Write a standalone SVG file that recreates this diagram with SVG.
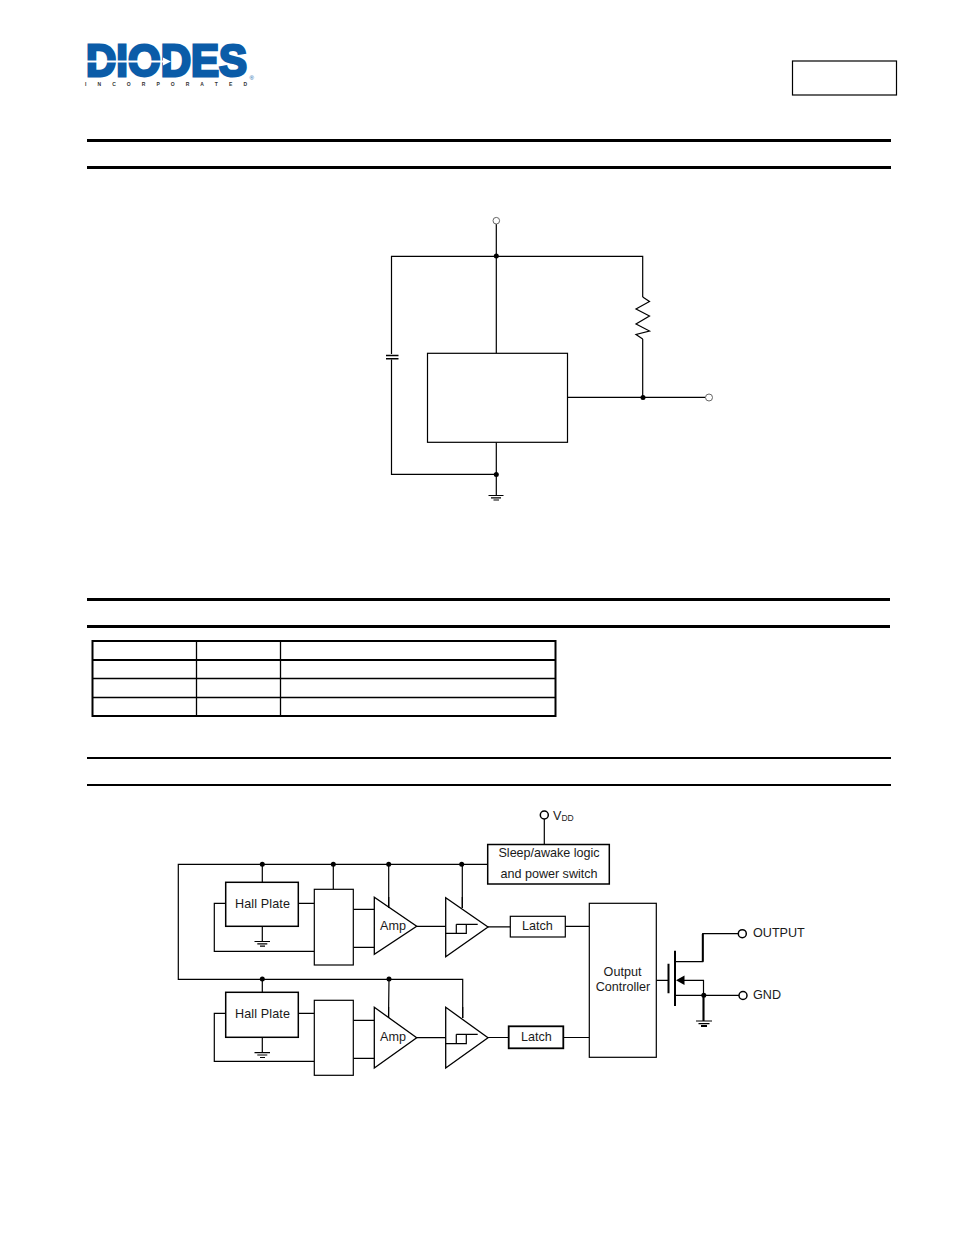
<svg xmlns="http://www.w3.org/2000/svg" width="954" height="1235" viewBox="0 0 954 1235">
<style>
.w{fill:none;stroke:#000;stroke-width:1.2}
.b{fill:#fff;stroke:#000;stroke-width:1.2}
.t{fill:#fff;stroke:#000;stroke-width:1.3}
.o{fill:#fff;stroke:#000;stroke-width:1.5}
.og{fill:#fff;stroke:#666;stroke-width:1}
.d{fill:#000}
.r{fill:none;stroke:#000}
.l{font-family:"Liberation Sans",Arial,sans-serif;font-size:12.6px;fill:#1a1a1a}
</style>
<rect width="954" height="1235" fill="#fff"/>
<g id="logo">
<text x="86" y="76" font-family="Liberation Sans,Arial,sans-serif" font-weight="700" font-size="44" fill="#0b5ca8" stroke="#0b5ca8" stroke-width="2.800" textLength="161" lengthAdjust="spacingAndGlyphs">DIODES</text>
<path d="M85 60.500H163V57.500L171 61.500L163 65.500V62.500H85Z" fill="#fff"/>
<text x="85" y="85.500" font-family="Liberation Sans,Arial,sans-serif" font-weight="700" font-size="5" fill="#333" textLength="162">I N C O R P O R A T E D</text>
<text x="249.500" y="80" font-family="Liberation Sans,Arial,sans-serif" font-size="6" fill="#0b5ca8">®</text>
</g>
<g id="page-frame">
<rect x="792.500" y="61" width="104" height="34" class="r" stroke-width="1.200"/>
<path class="r" stroke-width="3" d="M87 140.500H891M87 167.500H891M87 599.500H890M87 626.500H890"/>
<path class="r" stroke-width="2" d="M87 758H891M87 785H891"/>
</g>
<g id="pin-table">
<rect x="92.500" y="641" width="463" height="75" class="r" stroke-width="2"/>
<path class="r" stroke-width="2" d="M92 660H556"/>
<path class="r" stroke-width="1.300" d="M92 678.500H556M92 697.500H556M196.500 641V716M280.500 641V716"/>
</g>
<g id="app-connectors">
<path class="w" d="M496.300 224V353.300M391.500 354V256.300H642.700V297M642.700 339V397.300M567.500 397.300H705.500M391.500 359.500V474.300H496.300M496.300 442.300V495"/>
<path class="w" d="M642.700 297L649.500 301.500 636 309 649.500 316 636 324 649.500 331 636 334.500 642.700 339"/>
<path class="w" d="M386 355.500H398.500M386 358.800H398.500" style="stroke-width:1.500"/>
<path class="w" d="M488.500 495.500H503.500M491 497.800H501M493.500 500H499"/>
</g>
<g id="app-vdd"><circle cx="496.300" cy="220.700" r="3.300" class="og"/></g>
<g id="app-out"><circle cx="709" cy="397.500" r="3.500" class="og"/></g>
<g id="app-ic"><rect x="427.500" y="353.300" width="140" height="89" class="b"/></g>
<g id="app-junctions">
<circle cx="496.300" cy="256" r="2.500" class="d"/><circle cx="643" cy="397.500" r="2.500" class="d"/><circle cx="496.300" cy="474.500" r="2.500" class="d"/>
</g>
<g id="bd-connectors">
<path class="w" d="M544.300 819V844.500M487.700 864.300H178.300V979.300H462.700V1018M262.300 864.300V882.300M333.300 864.300V889.300M388.700 864.300V908M462.300 864.300V908"/>
<path class="w" d="M298.300 903.300H314.300M225.700 903.300H214.300V951.300H314.300M262.300 926.300V941.300M353.300 909.300H374.300M353.300 947.300H374.300M416.700 926.300H445.700M488 926.800H510.300M565.300 926.300H589.300"/>
<path class="w" d="M254.500 941.500H270M257.300 943.800H267.300M260 946.200H265"/>
<path class="w" d="M262.300 979.300V992.300M389 979.300L388.500 1018M298.300 1013.300H314.300M225.700 1013.300H214.300V1061.300H314.300M262.300 1037.300V1052.700M353.300 1020.300H374.300M353.300 1058.300H374.300M416.700 1037.700H445.700M488 1037.500H508.700M563.300 1037.500H589.300"/>
<path class="w" d="M254.500 1052.700H270M257.300 1055H267.300M260 1057.500H265"/>
<path class="w" d="M656.300 980.300H668M675 961.700H702.700V933.700H738.300M684 980.300H703.500V1021M675 995.300H739M696 1021H712M698.500 1023.700H709.500"/>
<path class="w" style="stroke-width:2" d="M668.500 963.700V993.300M675 950.700V1006M701 1026H707M702.800 934V961.700M703.500 995V1021"/>
</g>
<g id="bd-junctions">
<circle cx="262.300" cy="864.300" r="2.500" class="d"/><circle cx="333.300" cy="864.300" r="2.500" class="d"/><circle cx="388.700" cy="864.300" r="2.500" class="d"/><circle cx="461.700" cy="864.300" r="2.500" class="d"/><circle cx="262.300" cy="979" r="2.500" class="d"/><circle cx="389" cy="979" r="2.500" class="d"/><circle cx="703.800" cy="995.300" r="2.500" class="d"/>
</g>
<g id="vdd-pin"><circle cx="544.300" cy="815" r="4" class="o"/><text x="553" y="820" class="l">V<tspan font-size="8.500" dy="1">DD</tspan></text></g>
<g id="sleep-logic"><rect x="487.700" y="844.500" width="121.600" height="39.500" class="b" style="stroke-width:1.500"/><text x="549" y="857" class="l" text-anchor="middle" textLength="101">Sleep/awake logic</text><text x="549" y="878" class="l" text-anchor="middle" textLength="97">and power switch</text></g>
<g id="hall-1"><rect x="225.700" y="882.300" width="72.600" height="44" class="b" style="stroke-width:1.500"/><text x="235" y="908" class="l" textLength="55">Hall Plate</text></g>
<g id="switch-1"><rect x="314.300" y="889.300" width="39" height="75.700" class="b"/></g>
<g id="amp-1"><path class="t" d="M374.300 897.300V954.300L416.700 926.300Z"/><path class="w" d="M388.700 897V908"/><text x="380" y="930" class="l">Amp</text></g>
<g id="comp-1"><path class="t" d="M445.700 897.700V956.700L488 927Z"/><path class="w" d="M462.300 897V908M445.700 933.300H466.300V924.300H477.700M456.300 924.300H466.300M456.300 924.300V933.300"/></g>
<g id="latch-1"><rect x="510.300" y="916.300" width="55" height="20.700" class="b"/><text x="522" y="930" class="l">Latch</text></g>
<g id="hall-2"><rect x="225.700" y="992.300" width="72.600" height="45" class="b" style="stroke-width:1.500"/><text x="235" y="1018" class="l" textLength="55">Hall Plate</text></g>
<g id="switch-2"><rect x="314.300" y="1000.300" width="39" height="75" class="b"/></g>
<g id="amp-2"><path class="t" d="M374.300 1007.300V1068L416.700 1037.700Z"/><path class="w" d="M388.600 1007V1018"/><text x="380" y="1041" class="l">Amp</text></g>
<g id="comp-2"><path class="t" d="M445.700 1007.300V1068L488 1037.700Z"/><path class="w" d="M462.700 1007V1018M445.700 1043.700H466.300V1034.300H477.700M456.300 1034.300H466.300M456.300 1034.300V1043.700"/></g>
<g id="latch-2"><rect x="508.700" y="1026.300" width="54.600" height="22" class="b" style="stroke-width:1.800"/><text x="521" y="1041" class="l">Latch</text></g>
<g id="output-controller"><rect x="589.300" y="903.300" width="67" height="154" class="b"/><text x="622.500" y="976" class="l" text-anchor="middle">Output</text><text x="623" y="991" class="l" text-anchor="middle">Controller</text></g>
<g id="mosfet-arrow"><path class="d" d="M676 980.300L684.500 975.500V985Z"/></g>
<g id="output-pin"><circle cx="742.300" cy="933.700" r="4" class="o"/><text x="753" y="937.300" class="l">OUTPUT</text></g>
<g id="gnd-pin"><circle cx="743" cy="995.500" r="4" class="o"/><text x="753" y="998.700" class="l">GND</text></g>
</svg>
